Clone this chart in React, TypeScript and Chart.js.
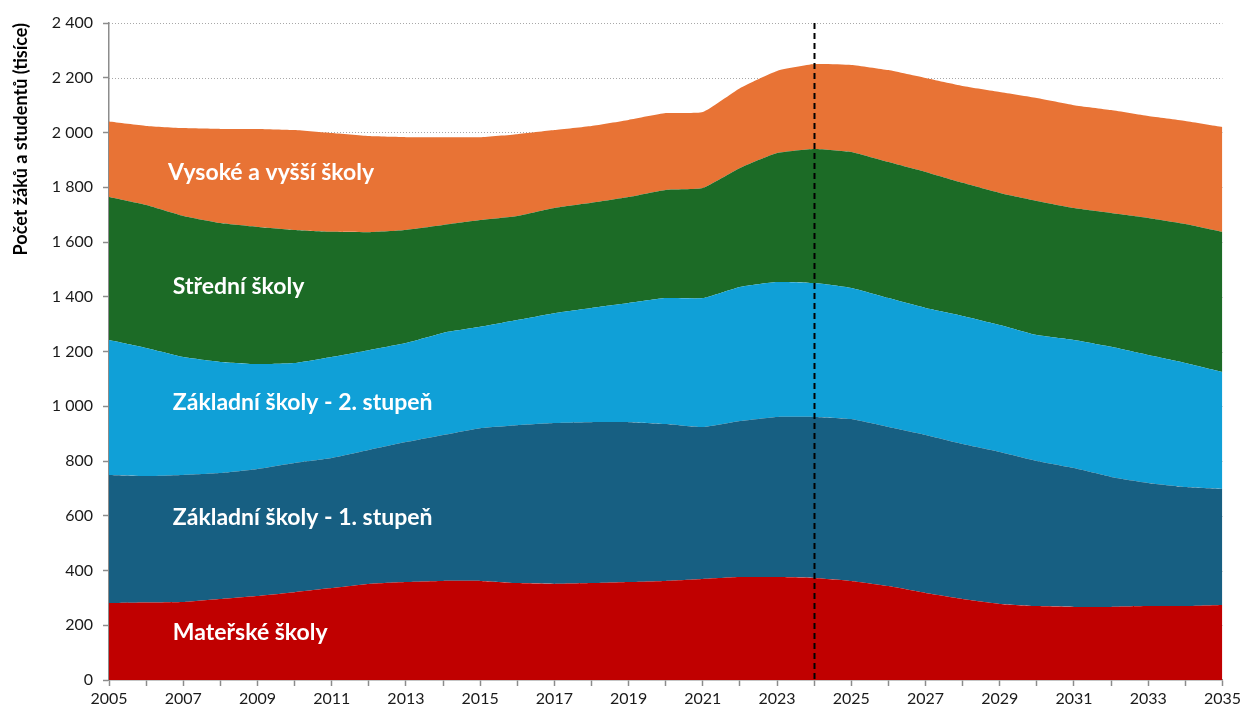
import React, { useEffect, useRef } from "react";
import { Chart, registerables } from "chart.js";

Chart.register(...registerables);

const years = [
  2005, 2006, 2007, 2008, 2009, 2010, 2011, 2012, 2013, 2014, 2015, 2016, 2017, 2018, 2019, 2020,
  2021, 2022, 2023, 2024, 2025, 2026, 2027, 2028, 2029, 2030, 2031, 2032, 2033, 2034, 2035,
];

// thousands of pupils/students
const materske = [
  281, 283, 285, 296, 307, 321, 336, 351, 358, 362, 362, 354, 351, 354, 358, 362,
  369, 376, 376, 373, 362, 343, 318, 296, 278, 270, 267, 267, 270, 270, 274,
];
const zakladni1 = [
  468, 462, 464, 460, 464, 472, 475, 489, 511, 533, 558, 577, 588, 588, 584, 573,
  555, 570, 585, 588, 591, 581, 577, 566, 555, 530, 507, 475, 450, 435, 424,
];
const zakladni2 = [
  493, 468, 431, 406, 383, 365, 369, 365, 362, 373, 370, 384, 401, 417, 435, 460,
  471, 490, 493, 489, 479, 471, 464, 468, 464, 460, 468, 475, 467, 453, 427,
];
const stredni = [
  522, 522, 515, 507, 501, 486, 457, 431, 413, 394, 390, 380, 384, 384, 387, 395,
  402, 434, 471, 490, 497, 497, 497, 486, 482, 490, 482, 489, 501, 508, 512,
];
const vysoke = [
  276, 289, 321, 344, 358, 365, 361, 351, 339, 321, 303, 299, 285, 281, 282, 281,
  278, 292, 300, 310, 318, 336, 343, 354, 369, 376, 376, 376, 372, 376, 383,
];

const seriesNames = [
  "Mateřské školy",
  "Základní školy - 1. stupeň",
  "Základní školy - 2. stupeň",
  "Střední školy",
  "Vysoké a vyšší školy",
];
const seriesColors = ["#C00000", "#175F82", "#10A0D7", "#1C6B26", "#E87335"];

// in-area labels: anchor in data coordinates (year, value)
const labelYears = [2006.72, 2006.72, 2006.72, 2006.72, 2006.59];
const labelValues = [172, 592, 1012, 1436, 1852];

const forecastYear = 2024;
const yTitle = "Počet žáků a studentů (tisíce)";

const FONT = "Lato, 'Open Sans', sans-serif";

function fmt(v: number): string {
  if (v >= 1000) {
    const th = Math.floor(v / 1000);
    const rest = String(v % 1000).padStart(3, "0");
    return `${th} ${rest}`;
  }
  return String(v);
}

export default function App() {
  const ref = useRef<HTMLCanvasElement | null>(null);

  useEffect(() => {
    if (!ref.current) return;
    const allSeries = [materske, zakladni1, zakladni2, stredni, vysoke];
    const datasets = allSeries.map((s, i) => ({
      label: seriesNames[i],
      data: years.map((y, j) => ({ x: y, y: s[j] })),
      backgroundColor: seriesColors[i],
      borderColor: seriesColors[i],
      borderWidth: 0,
      pointRadius: 0,
      tension: 0.15,
      fill: i === 0 ? "origin" : "-1",
    }));

    const gridPlugin = {
      id: "dottedGrid",
      beforeDatasetsDraw(chart: any) {
        const { ctx, scales, chartArea } = chart;
        const ys = scales.y;
        ctx.save();
        ctx.strokeStyle = "#A8A8A8";
        ctx.lineWidth = 1;
        ctx.setLineDash([1, 2]);
        ys.ticks.forEach((t: any) => {
          if (t.value === 0) return;
          const py = Math.round(ys.getPixelForValue(t.value)) + 0.5;
          ctx.beginPath();
          ctx.moveTo(chartArea.left, py);
          ctx.lineTo(chartArea.right, py);
          ctx.stroke();
        });
        ctx.restore();
      },
    };

    const overlay = {
      id: "overlay",
      afterDatasetsDraw(chart: any) {
        const { ctx, scales, chartArea } = chart;
        const xs = scales.x;
        const ys = scales.y;
        ctx.save();
        ctx.fillStyle = "#FFFFFF";
        ctx.font = `bold 23px ${FONT}`;
        ctx.textAlign = "left";
        ctx.textBaseline = "middle";
        seriesNames.forEach((n, i) => {
          ctx.fillText(n, xs.getPixelForValue(labelYears[i]), ys.getPixelForValue(labelValues[i]));
        });
        const px = Math.round(xs.getPixelForValue(forecastYear)) + 0.5;
        ctx.strokeStyle = "#000000";
        ctx.lineWidth = 2;
        ctx.setLineDash([6, 4]);
        ctx.beginPath();
        ctx.moveTo(px, chartArea.top);
        ctx.lineTo(px, chartArea.bottom);
        ctx.stroke();
        ctx.restore();
      },
    };

    const chart = new Chart(ref.current, {
      type: "line",
      data: { datasets: datasets as any },
      options: {
        animation: false,
        responsive: false,
        layout: { padding: { left: 8, top: 23, right: 20, bottom: 0 } },
        plugins: { legend: { display: false }, tooltip: { enabled: false } },
        scales: {
          x: {
            type: "linear",
            min: 2005,
            max: 2035,
            afterFit(scale: any) {
              scale.height = 33;
            },
            border: { display: true, color: "#8C8C8C", width: 1.5 },
            grid: {
              drawOnChartArea: false,
              drawTicks: true,
              tickLength: 6,
              tickColor: "#8C8C8C",
              tickWidth: 1.5,
            },
            ticks: {
              stepSize: 1,
              autoSkip: false,
              maxRotation: 0,
              padding: 3,
              color: "#1A1A1A",
              font: { family: FONT, size: 16 },
              callback: (v: any) => (Number(v) % 2 === 1 ? String(v) : ""),
            },
          },
          y: {
            stacked: true,
            min: 0,
            max: 2400,
            afterFit(scale: any) {
              scale.width = 101;
            },
            border: { display: true, color: "#8C8C8C", width: 1.5 },
            grid: {
              drawOnChartArea: false,
              drawTicks: true,
              tickLength: 6,
              tickColor: "#8C8C8C",
              tickWidth: 1.5,
            },
            ticks: {
              stepSize: 200,
              padding: 10,
              color: "#1A1A1A",
              font: { family: FONT, size: 16 },
              callback: (v: any) => fmt(Number(v)),
            },
            title: {
              display: true,
              text: yTitle,
              align: "end",
              color: "#000000",
              font: { family: FONT, size: 18, weight: "bold" },
              padding: { top: 2, bottom: 4 },
            },
          },
        },
      },
      plugins: [gridPlugin, overlay],
    });
    return () => chart.destroy();
  }, []);

  return (
    <div style={{ position: "fixed", left: 0, top: 0, width: 1244, height: 713, background: "#fff" }}>
      <canvas ref={ref} width={1244} height={713} style={{ display: "block" }} />
    </div>
  );
}
